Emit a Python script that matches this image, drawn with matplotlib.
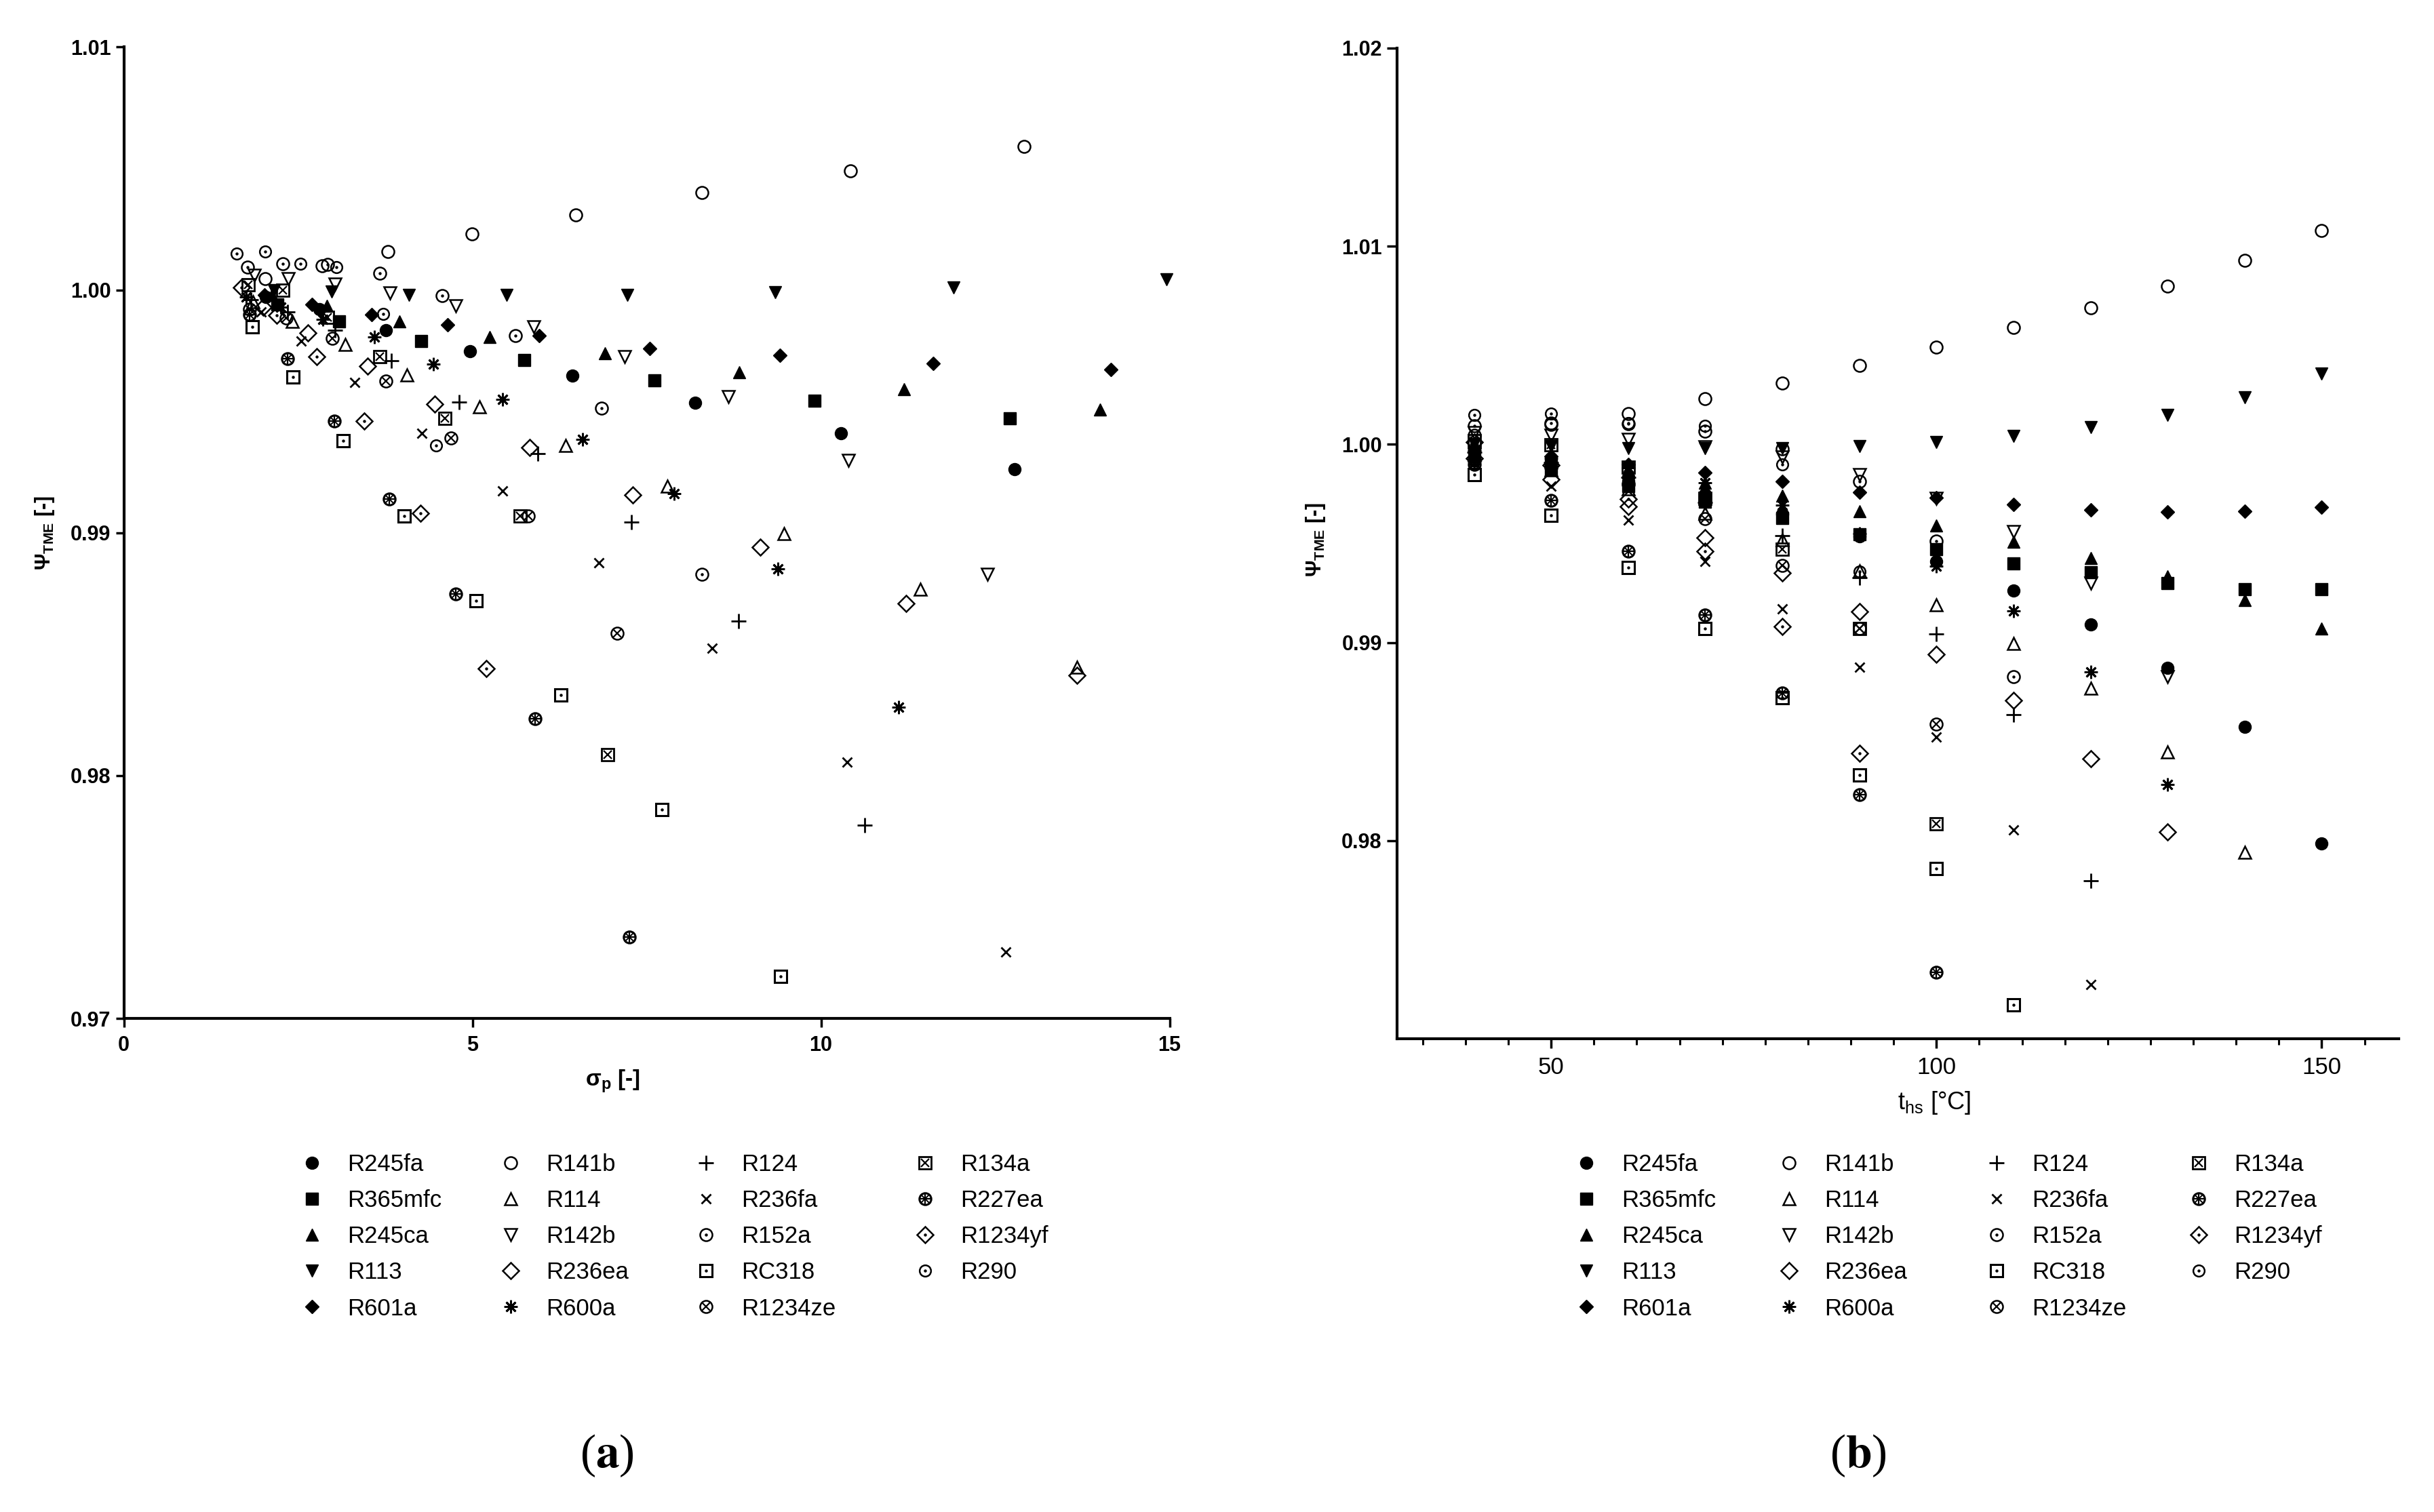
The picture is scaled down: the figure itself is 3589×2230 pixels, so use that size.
import matplotlib.pyplot as plt
from matplotlib.lines import Line2D
from matplotlib.legend_handler import HandlerTuple
from matplotlib.ticker import FixedLocator, FormatStrFormatter

plt.rcParams['font.family'] = ['Liberation Sans', 'DejaVu Sans']
plt.rcParams['mathtext.fontset'] = 'custom'
plt.rcParams['mathtext.rm'] = 'Liberation Sans'
plt.rcParams['mathtext.bf'] = 'Liberation Sans:bold'

# --- data ---
# heat source temperature t_hs [°C]; every series starts at 40 °C, step 10 °C
t_hs = [40, 50, 60, 70, 80, 90, 100, 110, 120, 130, 140, 150]

# psi_TME [-] per fluid, sig = pressure ratio sigma_p [-] (only points inside 0..15)
psi_r245fa = [0.9997, 0.9992, 0.99835, 0.99748, 0.99648, 0.99536, 0.99411, 0.99262, 0.99091, 0.98873, 0.98574, 0.97987]
sig_r245fa = [2.04, 2.80, 3.76, 4.96, 6.43, 8.19, 10.29, 12.78]
psi_r365mfc = [0.9994, 0.9987, 0.9979, 0.9971, 0.99627, 0.99545, 0.9947, 0.99398, 0.99355, 0.99299, 0.9927, 0.9927]
sig_r365mfc = [2.20, 3.09, 4.26, 5.74, 7.61, 9.91, 12.71]
psi_r245ca = [0.9998, 0.99934, 0.9987, 0.99806, 0.9974, 0.99662, 0.99591, 0.99507, 0.99426, 0.99335, 0.99213, 0.99071]
sig_r245ca = [2.12, 2.91, 3.95, 5.25, 6.90, 8.83, 11.19, 14.00]
psi_r113 = [1.0000, 0.99992, 0.9998, 0.9998, 0.9998, 0.9999, 1.0001, 1.00043, 1.00088, 1.0015, 1.00236, 1.00358]
sig_r113 = [2.15, 2.98, 4.09, 5.49, 7.22, 9.34, 11.90, 14.96]
psi_r601a = [0.9998, 0.9994, 0.99899, 0.99857, 0.99812, 0.99758, 0.9973, 0.99696, 0.99671, 0.99659, 0.99662, 0.99682]
sig_r601a = [2.02, 2.70, 3.55, 4.64, 5.96, 7.54, 9.41, 11.61, 14.16]
psi_r141b = [1.00047, 1.0010, 1.00157, 1.0023, 1.00308, 1.0040, 1.0049, 1.0059, 1.0069, 1.0080, 1.0093, 1.0108]
sig_r141b = [2.03, 2.84, 3.79, 4.99, 6.48, 8.29, 10.42, 12.91]
psi_r114 = [0.9995, 0.9987, 0.99774, 0.99651, 0.99518, 0.9936, 0.99191, 0.98995, 0.98768, 0.98447, 0.97941]
sig_r114 = [1.85, 2.42, 3.17, 4.06, 5.10, 6.34, 7.80, 9.47, 11.42, 13.67]
psi_r142b = [1.0006, 1.00047, 1.00025, 0.99988, 0.99935, 0.99849, 0.99726, 0.99561, 0.99299, 0.98829]
sig_r142b = [1.87, 2.36, 3.03, 3.82, 4.76, 5.88, 7.18, 8.67, 10.39, 12.39]
psi_r236ea = [0.9993, 0.99822, 0.99686, 0.99529, 0.99352, 0.99155, 0.98941, 0.98708, 0.98412, 0.98043]
sig_r236ea = [2.00, 2.64, 3.50, 4.46, 5.82, 7.30, 9.13, 11.22, 13.67]
psi_r600a = [0.9997, 0.9993, 0.9988, 0.99806, 0.99694, 0.9955, 0.99385, 0.9916, 0.9885, 0.98282]
sig_r600a = [1.75, 2.25, 2.85, 3.59, 4.44, 5.43, 6.58, 7.89, 9.38, 11.11]
psi_r124 = [0.9996, 0.9991, 0.99833, 0.99707, 0.99539, 0.99326, 0.99043, 0.98636, 0.97797]
sig_r124 = [1.82, 2.35, 3.03, 3.84, 4.81, 5.94, 7.28, 8.82, 10.63]
psi_r236fa = [0.9991, 0.9979, 0.99619, 0.99411, 0.99171, 0.98877, 0.98524, 0.98055, 0.97275]
sig_r236fa = [1.97, 2.54, 3.31, 4.27, 5.43, 6.81, 8.44, 10.37, 12.65]
psi_r152a = [1.00095, 1.00109, 1.00105, 1.00068, 0.99977, 0.99812, 0.99513, 0.98829]
sig_r152a = [1.77, 2.28, 2.92, 3.67, 4.57, 5.62, 6.85, 8.29]
psi_rc318 = [0.99847, 0.99641, 0.99379, 0.99069, 0.98720, 0.98331, 0.97860, 0.97172]
sig_rc318 = [1.84, 2.43, 3.15, 4.02, 5.05, 6.27, 7.72, 9.42]
psi_r1234ze = [0.9992, 0.99885, 0.99801, 0.99625, 0.99390, 0.99069, 0.98587]
sig_r1234ze = [1.80, 2.33, 2.99, 3.76, 4.69, 5.80, 7.08]
psi_r134a = [1.0002, 0.99999, 0.99886, 0.99726, 0.9947, 0.99069, 0.98086]
sig_r134a = [1.78, 2.28, 2.92, 3.67, 4.60, 5.68, 6.94]
psi_r227ea = [0.99897, 0.99716, 0.99459, 0.99139, 0.98747, 0.98233, 0.97335]
sig_r227ea = [1.80, 2.35, 3.02, 3.81, 4.76, 5.90, 7.25]
psi_r1234yf = [1.0001, 0.99895, 0.99724, 0.99461, 0.99080, 0.98440]
sig_r1234yf = [1.69, 2.19, 2.77, 3.45, 4.25, 5.20]
psi_r290 = [1.0015, 1.00157, 1.00109, 1.00095, 0.9990, 0.99358]
sig_r290 = [1.62, 2.03, 2.53, 3.05, 3.72, 4.48]

series = {
    'R245fa': (psi_r245fa, sig_r245fa), 'R365mfc': (psi_r365mfc, sig_r365mfc),
    'R245ca': (psi_r245ca, sig_r245ca), 'R113': (psi_r113, sig_r113),
    'R601a': (psi_r601a, sig_r601a), 'R141b': (psi_r141b, sig_r141b),
    'R114': (psi_r114, sig_r114), 'R142b': (psi_r142b, sig_r142b),
    'R236ea': (psi_r236ea, sig_r236ea), 'R600a': (psi_r600a, sig_r600a),
    'R124': (psi_r124, sig_r124), 'R236fa': (psi_r236fa, sig_r236fa),
    'R152a': (psi_r152a, sig_r152a), 'RC318': (psi_rc318, sig_rc318),
    'R1234ze': (psi_r1234ze, sig_r1234ze), 'R134a': (psi_r134a, sig_r134a),
    'R227ea': (psi_r227ea, sig_r227ea), 'R1234yf': (psi_r1234yf, sig_r1234yf),
    'R290': (psi_r290, sig_r290),
}

legend_cols = [
    ['R245fa', 'R365mfc', 'R245ca', 'R113', 'R601a'],
    ['R141b', 'R114', 'R142b', 'R236ea', 'R600a'],
    ['R124', 'R236fa', 'R152a', 'RC318', 'R1234ze'],
    ['R134a', 'R227ea', 'R1234yf', 'R290'],
]

# --- symbol styles (Prism-like): list of layers (marker, size, filled, edge width) ---
DOT = ('o', 3.2, True, 0)
MARKERS = {
    'R245fa': [('o', 13, True, 1)],
    'R365mfc': [('s', 12.5, True, 1)],
    'R245ca': [('^', 13, True, 1)],
    'R113': [('v', 13, True, 1)],
    'R601a': [('D', 10.5, True, 1)],
    'R141b': [('o', 13, False, 1.8)],
    'R114': [('^', 13, False, 1.8)],
    'R142b': [('v', 13, False, 1.8)],
    'R236ea': [('D', 12, False, 1.8)],
    'R600a': [((8, 2, 0), 14, False, 2.0)],
    'R124': [('+', 16, False, 2.0)],
    'R236fa': [('x', 10, False, 2.0)],
    'R152a': [('o', 13, False, 1.8), DOT],
    'RC318': [('s', 12.5, False, 2.2), DOT],
    'R1234ze': [('o', 13, False, 1.8), ('x', 8, False, 1.6)],
    'R134a': [('s', 12.5, False, 2.0), ('x', 9, False, 1.6)],
    'R227ea': [('o', 12.5, False, 2.2), ('+', 11, False, 1.6), ('x', 8, False, 1.4)],
    'R1234yf': [('D', 12, False, 1.8), DOT],
    'R290': [('o', 12, False, 1.8), DOT],
}


def draw(ax, x, y, name):
    for m, ms, filled, mew in MARKERS[name]:
        ax.plot(x, y, ls='none', marker=m, ms=ms, mfc='black' if filled else 'none',
                mec='black', mew=mew, clip_on=False, zorder=3)


def handle(name):
    hs = [Line2D([], [], ls='none', marker=m, ms=ms, mfc='black' if filled else 'none',
                 mec='black', mew=mew) for m, ms, filled, mew in MARKERS[name]]
    return tuple(hs) if len(hs) > 1 else hs[0]


W, H, DPI = 3589, 2230, 100
fig = plt.figure(figsize=(W / DPI, H / DPI), dpi=DPI)

ax1 = fig.add_axes([182.7 / W, 1 - 1502 / H, (1724.5 - 182.7) / W, (1502 - 69.4) / H])
ax2 = fig.add_axes([2060 / W, 1 - 1532 / H, (3537 - 2060) / W, (1532 - 71) / H])

for name, (psi, sig) in series.items():
    draw(ax1, sig, psi[:len(sig)], name)
    draw(ax2, t_hs[:len(psi)], psi, name)

for ax in (ax1, ax2):
    ax.spines[['top', 'right']].set_visible(False)
    ax.spines[['left', 'bottom']].set_linewidth(3)
    ax.yaxis.set_major_formatter(FormatStrFormatter('%.2f'))

ax1.set_xlim(0, 15)
ax1.set_ylim(0.97, 1.01)
ax1.set_xticks([0, 5, 10, 15])
ax1.set_yticks([0.97, 0.98, 0.99, 1.00, 1.01])
ax1.tick_params(axis='both', direction='out', length=9, width=2.5, labelsize=22)
ax1.tick_params(axis='x', pad=9)
ax1.tick_params(axis='y', pad=5)
for lbl in ax1.get_xticklabels() + ax1.get_yticklabels():
    lbl.set_fontweight('bold')

ax2.set_xlim(30, 160)
ax2.set_ylim(0.97, 1.02)
ax2.set_xticks([50, 100, 150])
ax2.xaxis.set_minor_locator(FixedLocator([50 + k * 50 / 9 for k in range(-3, 20)]))
ax2.set_yticks([0.98, 0.99, 1.00, 1.01, 1.02])
ax2.tick_params(axis='x', which='major', direction='out', length=10, width=2.5, labelsize=25, pad=9)
ax2.tick_params(axis='x', which='minor', direction='out', length=6.5, width=2.2)
ax2.tick_params(axis='y', direction='out', length=11, width=2.5, labelsize=22, pad=5)
for lbl in ax2.get_yticklabels():
    lbl.set_fontweight('bold')

# axis titles
fig.text(66 / W, 1 - 786 / H, 'Ψ$_{\\mathbf{TME}}$ [-]', rotation=90, ha='center', va='center',
         fontsize=22, fontweight='bold')
fig.text(1940 / W, 1 - 796 / H, 'Ψ$_{\\mathbf{TME}}$ [-]', rotation=90, ha='center', va='center',
         fontsize=22, fontweight='bold')
fig.text(904 / W, 1 - 1595 / H, 'σ$_{\\mathbf{p}}$ [-]', ha='center', va='center',
         fontsize=24, fontweight='bold')
fig.text(2852 / W, 1 - 1627 / H, 't$_{\\mathrm{hs}}$ [°C]', ha='center', va='center', fontsize=26)

# legends: one per column so the columns sit where the original has them
LEG_FS = 25
fs_px = LEG_FS * DPI / 72


def column_legends(marker_xs, top_px):
    for names, mx in zip(legend_cols, marker_xs):
        fig.legend([handle(n) for n in names], names, loc='upper left',
                   bbox_to_anchor=((mx - 0.5 * fs_px) / W, 1 - top_px / H),
                   bbox_transform=fig.transFigure, frameon=False, borderpad=0,
                   borderaxespad=0, handlelength=1.0, handletextpad=1.0,
                   labelspacing=0.58, fontsize=LEG_FS,
                   handler_map={tuple: HandlerTuple(ndivide=1)})


column_legends([460, 753, 1041, 1364], 1701)
column_legends([2339, 2638, 2944, 3242], 1701)

# panel captions
fig.text(895 / W, 1 - 2147 / H, r'($\mathbf{a}$)', ha='center', va='center', fontsize=50,
         family='Liberation Serif', math_fontfamily='stix')
fig.text(2740 / W, 1 - 2147 / H, r'($\mathbf{b}$)', ha='center', va='center', fontsize=50,
         family='Liberation Serif', math_fontfamily='stix')

fig.savefig('out.png', dpi=DPI)
